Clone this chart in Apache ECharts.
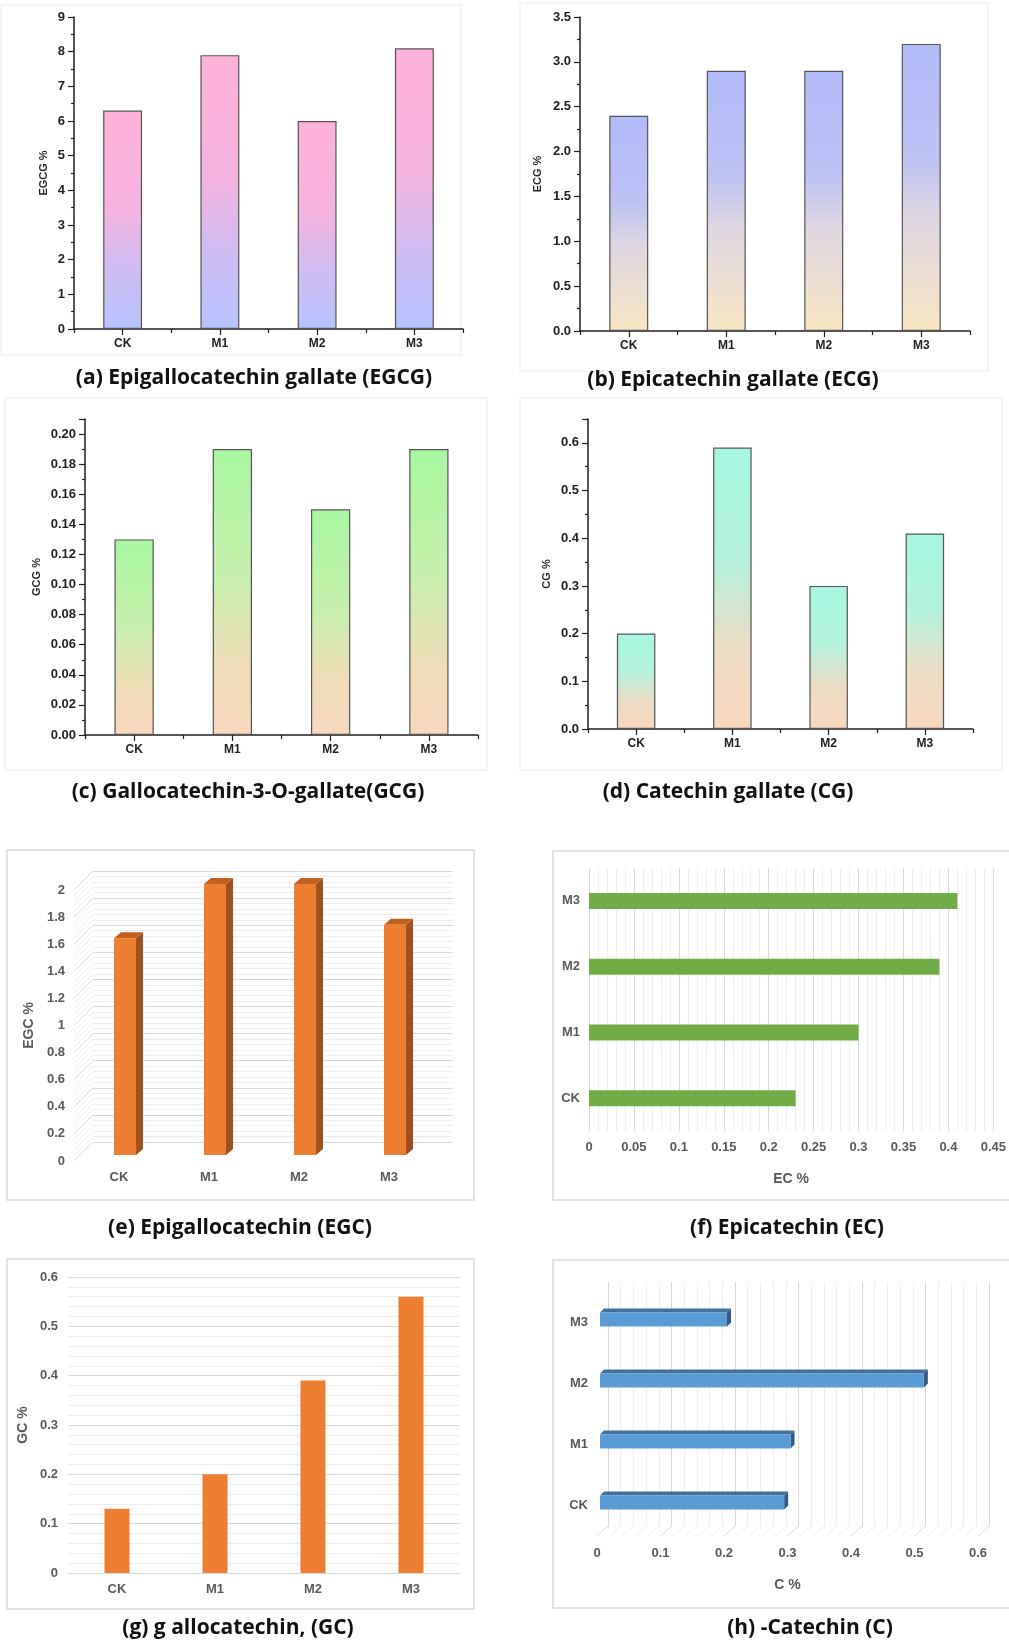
<!DOCTYPE html>
<html>
<head>
<meta charset="utf-8">
<script src="https://cdn.jsdelivr.net/npm/echarts@6/dist/echarts.min.js"></script>
<style>
  html, body { margin: 0; padding: 0; background: #fff; }
  #chart { width: 1009px; height: 1644px; }
</style>
</head>
<body>
<div id="chart"></div>
<script>
const categories = ['CK', 'M1', 'M2', 'M3'];
const egcgValues = [6.3, 7.9, 6.0, 8.1];
const ecgValues = [2.4, 2.9, 2.9, 3.2];
const gcgValues = [0.13, 0.19, 0.15, 0.19];
const cgValues = [0.2, 0.59, 0.3, 0.41];
const egcValues = [1.6, 2.0, 2.0, 1.7];
const ecValues = [0.23, 0.3, 0.39, 0.41];
const gcValues = [0.13, 0.2, 0.39, 0.56];
const cValues = [0.29, 0.3, 0.51, 0.2];
const egcTicks = [0, 0.2, 0.4, 0.6, 0.8, 1, 1.2, 1.4, 1.6, 1.8, 2];
const cTicks = [0, 0.1, 0.2, 0.3, 0.4, 0.5, 0.6];
const titles = [
  '(a) Epigallocatechin gallate (EGCG)',
  '(b) Epicatechin gallate (ECG)',
  '(c) Gallocatechin-3-O-gallate(GCG)',
  '(d) Catechin gallate (CG)',
  '(e) Epigallocatechin (EGC)',
  '(f) Epicatechin (EC)',
  '(g) g allocatechin, (GC)',
  '(h) -Catechin (C)'
];

const ORIGIN_FONT = '"Liberation Sans", Arial, sans-serif';
const EXCEL_FONT = '"Liberation Sans", Arial, sans-serif';
const TITLE_FONT = '"Open Sans", sans-serif';
const INK = '#1f1f1f';
const EXCEL_TEXT = '#595959';
const MAJOR_GRID = '#d9d9d9';
const MINOR_GRID = '#eeeeee';

const chart = echarts.init(document.getElementById('chart'));

const grid = [];
const xAxis = [];
const yAxis = [];
const series = [];
const graphic = [];

function addGrid(rect) {
  grid.push(Object.assign({ containLabel: false }, rect));
  return grid.length - 1;
}

function onStep(step, digits) {
  return (v) => Math.abs(v / step - Math.round(v / step)) < 1e-6 ? v.toFixed(digits) : '';
}

const excelLabel = { color: EXCEL_TEXT, fontWeight: 'bold', fontSize: 13, fontFamily: EXCEL_FONT };
const excelName = { color: EXCEL_TEXT, fontWeight: 'bold', fontSize: 14, fontFamily: EXCEL_FONT };

// Origin style panels (a)-(d): gradient bars with black frame axes
function originPanel(rect, values, yMax, step, digits, name, nameGap, stops) {
  const g = addGrid(rect);
  const line = { color: INK, width: 1.5 };
  const xi = xAxis.length;
  xAxis.push({
    type: 'category', gridIndex: g, data: categories,
    axisLine: { lineStyle: line },
    axisTick: { show: true, length: 4, lineStyle: { color: INK, width: 1.2 } },
    axisLabel: { color: INK, fontWeight: 'bold', fontSize: 12, fontFamily: ORIGIN_FONT, margin: 9 }
  });
  xAxis.push({
    type: 'category', gridIndex: g, data: categories, position: 'bottom',
    axisLine: { show: false },
    axisTick: { show: true, alignWithLabel: true, length: 6, lineStyle: { color: INK, width: 1.2 } },
    axisLabel: { show: false }
  });
  const yi = yAxis.length;
  yAxis.push({
    type: 'value', gridIndex: g, min: 0, max: yMax, interval: step,
    name: name, nameLocation: 'middle', nameGap: nameGap,
    nameTextStyle: { color: INK, fontWeight: 'bold', fontSize: 11, fontFamily: ORIGIN_FONT },
    axisLine: { show: true, lineStyle: line },
    axisTick: { show: true, length: 6, lineStyle: { color: INK, width: 1.2 } },
    minorTick: { show: true, splitNumber: 2, length: 3, lineStyle: { color: INK, width: 1.2 } },
    splitLine: { show: false },
    axisLabel: {
      color: INK, fontWeight: 'bold', fontSize: 13, fontFamily: ORIGIN_FONT, margin: 9,
      formatter: onStep(step, digits)
    }
  });
  series.push({
    type: 'bar', xAxisIndex: xi, yAxisIndex: yi, data: values, barWidth: '40%', silent: true,
    itemStyle: {
      color: new echarts.graphic.LinearGradient(0, 0, 0, 1, stops),
      borderColor: '#555', borderWidth: 1.2
    }
  });
}

originPanel({ left: 74, top: 17, width: 389, height: 312 }, egcgValues, 9, 1, 0, 'EGCG %', 25, [
  { offset: 0, color: '#ffb2da' }, { offset: 0.45, color: '#f4b3e0' },
  { offset: 0.7, color: '#d2bbf2' }, { offset: 1, color: '#b6c4ff' }
]);
originPanel({ left: 580, top: 17, width: 390, height: 314 }, ecgValues, 3.5, 0.5, 1, 'ECG %', 37, [
  { offset: 0, color: '#b2bbfa' }, { offset: 0.4, color: '#bcc2f4' },
  { offset: 0.6, color: '#ded6e2' }, { offset: 1, color: '#f9e6c2' }
]);
originPanel({ left: 85, top: 419, width: 393, height: 316 }, gcgValues, 0.21, 0.02, 2, 'GCG %', 43, [
  { offset: 0, color: '#a8f7a0' }, { offset: 0.45, color: '#c6f0ac' },
  { offset: 0.75, color: '#efdcb6' }, { offset: 1, color: '#f9d8bd' }
]);
originPanel({ left: 588, top: 419, width: 385, height: 310 }, cgValues, 0.65, 0.1, 1, 'CG %', 36, [
  { offset: 0, color: '#a6f7e0' }, { offset: 0.4, color: '#b4f2dc' },
  { offset: 0.7, color: '#ecdcc4' }, { offset: 1, color: '#f9d8bd' }
]);

// (e) Excel 3D column chart
const gE = addGrid({ left: 74, top: 890, width: 360, height: 271 });
const gEBack = addGrid({ left: 93, top: 871, width: 360, height: 271 });
const eX = xAxis.length;
xAxis.push({
  type: 'category', gridIndex: gE, data: categories,
  axisLine: { show: false }, axisTick: { show: false },
  axisLabel: Object.assign({ margin: 10 }, excelLabel)
});
const eY = yAxis.length;
yAxis.push({
  type: 'value', gridIndex: gE, min: 0, max: 2, interval: 0.2,
  name: 'EGC %', nameLocation: 'middle', nameGap: 38, nameTextStyle: excelName,
  axisLine: { show: false }, axisTick: { show: false }, splitLine: { show: false },
  axisLabel: Object.assign({ margin: 9 }, excelLabel)
});
xAxis.push({
  type: 'category', gridIndex: gEBack, data: categories,
  axisLine: { show: false }, axisTick: { show: false }, axisLabel: { show: false }
});
yAxis.push({
  type: 'value', gridIndex: gEBack, min: 0, max: 2, interval: 0.2,
  axisLine: { show: false }, axisTick: { show: false }, axisLabel: { show: false },
  minorTick: { show: false, splitNumber: 5 },
  splitLine: { show: true, lineStyle: { color: MAJOR_GRID, width: 1 } },
  minorSplitLine: { show: true, lineStyle: { color: MINOR_GRID, width: 1 } }
});
series.push({
  type: 'custom', xAxisIndex: eX, yAxisIndex: eY, silent: true, z: 1,
  data: egcTicks.map((v) => [0, v]),
  encode: { x: 0, y: 1 },
  renderItem(params, api) {
    const v = api.value(1);
    const cs = params.coordSys;
    const children = [];
    for (let k = 0; k < 5; k++) {
      const vv = v + k * 0.04;
      if (vv > 2 + 1e-9) break;
      const y = api.coord([0, vv])[1];
      children.push({
        type: 'line',
        shape: { x1: cs.x, y1: y, x2: cs.x + 19, y2: y - 19 },
        style: { stroke: k === 0 ? MAJOR_GRID : MINOR_GRID, lineWidth: 1 }
      });
    }
    return { type: 'group', children };
  }
});
series.push({
  type: 'custom', xAxisIndex: eX, yAxisIndex: eY, silent: true, z: 3,
  data: egcValues.map((v, i) => [i, v]),
  encode: { x: 0, y: 1 },
  renderItem(params, api) {
    const top = api.coord([api.value(0), api.value(1)]);
    const base = api.coord([api.value(0), 0]);
    const w = api.size([1, 0])[0] * 0.245;
    const x0 = top[0] - w / 2 + 6;
    const x1 = x0 + w;
    const yt = top[1] - 6;
    const yb = base[1] - 6;
    const dx = 7, dy = -6;
    return {
      type: 'group',
      children: [
        { type: 'polygon', shape: { points: [[x1, yt], [x1 + dx, yt + dy], [x1 + dx, yb + dy], [x1, yb]] }, style: { fill: '#9f511d' } },
        { type: 'polygon', shape: { points: [[x0, yt], [x1, yt], [x1 + dx, yt + dy], [x0 + dx, yt + dy]] }, style: { fill: '#c1601f' } },
        { type: 'rect', shape: { x: x0, y: yt, width: w, height: yb - yt }, style: { fill: '#ed7d31' } }
      ]
    };
  }
});

// (f) Excel horizontal bar chart
const gF = addGrid({ left: 589, top: 868, width: 406, height: 263 });
const fX = xAxis.length;
xAxis.push({
  type: 'value', gridIndex: gF, min: 0, max: 0.45, interval: 0.05,
  name: 'EC %', nameLocation: 'middle', nameGap: 41, nameTextStyle: excelName,
  axisLine: { show: false }, axisTick: { show: false },
  minorTick: { show: false, splitNumber: 5 },
  splitLine: { show: true, lineStyle: { color: MAJOR_GRID, width: 1 } },
  minorSplitLine: { show: true, lineStyle: { color: MINOR_GRID, width: 1 } },
  axisLabel: Object.assign({ margin: 10 }, excelLabel)
});
const fY = yAxis.length;
yAxis.push({
  type: 'category', gridIndex: gF, data: categories,
  axisLine: { show: false }, axisTick: { show: false },
  axisLabel: Object.assign({ margin: 9 }, excelLabel)
});
series.push({
  type: 'bar', xAxisIndex: fX, yAxisIndex: fY, data: ecValues, barWidth: 16, silent: true,
  itemStyle: { color: '#70ad47' }
});

// (g) Excel column chart
const gG = addGrid({ left: 68, top: 1277, width: 392, height: 296 });
const gX = xAxis.length;
xAxis.push({
  type: 'category', gridIndex: gG, data: categories,
  axisLine: { show: true, lineStyle: { color: MAJOR_GRID, width: 1 } }, axisTick: { show: false },
  axisLabel: Object.assign({ margin: 10 }, excelLabel)
});
const gY = yAxis.length;
yAxis.push({
  type: 'value', gridIndex: gG, min: 0, max: 0.6, interval: 0.1,
  name: 'GC %', nameLocation: 'middle', nameGap: 38, nameTextStyle: excelName,
  axisLine: { show: false }, axisTick: { show: false },
  minorTick: { show: false, splitNumber: 5 },
  splitLine: { show: true, lineStyle: { color: MAJOR_GRID, width: 1 } },
  minorSplitLine: { show: true, lineStyle: { color: MINOR_GRID, width: 1 } },
  axisLabel: Object.assign({ margin: 10 }, excelLabel)
});
series.push({
  type: 'bar', xAxisIndex: gX, yAxisIndex: gY, data: gcValues, barWidth: 25, silent: true,
  itemStyle: { color: '#ed7d31' }
});

// (h) Excel 3D horizontal bar chart
const gH = addGrid({ left: 597, top: 1292, width: 381, height: 244 });
const gHBack = addGrid({ left: 608, top: 1282, width: 381, height: 245 });
const hX = xAxis.length;
xAxis.push({
  type: 'value', gridIndex: gH, min: 0, max: 0.6, interval: 0.1,
  name: 'C %', nameLocation: 'middle', nameGap: 42, nameTextStyle: excelName,
  axisLine: { show: false }, axisTick: { show: false }, splitLine: { show: false },
  axisLabel: Object.assign({ margin: 11 }, excelLabel)
});
const hY = yAxis.length;
yAxis.push({
  type: 'category', gridIndex: gH, data: categories,
  axisLine: { show: false }, axisTick: { show: false },
  axisLabel: Object.assign({ margin: 9 }, excelLabel)
});
xAxis.push({
  type: 'value', gridIndex: gHBack, min: 0, max: 0.6, interval: 0.1,
  axisLine: { show: false }, axisTick: { show: false }, axisLabel: { show: false },
  minorTick: { show: false, splitNumber: 5 },
  splitLine: { show: true, lineStyle: { color: MAJOR_GRID, width: 1 } },
  minorSplitLine: { show: true, lineStyle: { color: MINOR_GRID, width: 1 } }
});
yAxis.push({
  type: 'category', gridIndex: gHBack, data: categories,
  axisLine: { show: false }, axisTick: { show: false }, axisLabel: { show: false }
});
series.push({
  type: 'custom', xAxisIndex: hX, yAxisIndex: hY, silent: true, z: 1,
  data: cTicks.map((v) => [v, 0]),
  encode: { x: 0, y: 1 },
  renderItem(params, api) {
    const v = api.value(0);
    const cs = params.coordSys;
    const yb = cs.y + cs.height;
    const children = [];
    for (let k = 0; k < 5; k++) {
      const vv = v + k * 0.02;
      if (vv > 0.6 + 1e-9) break;
      const x = api.coord([vv, 0])[0];
      children.push({
        type: 'line',
        shape: { x1: x, y1: yb, x2: x + 11, y2: yb - 10 },
        style: { stroke: k === 0 ? MAJOR_GRID : MINOR_GRID, lineWidth: 1 }
      });
    }
    return { type: 'group', children };
  }
});
series.push({
  type: 'custom', xAxisIndex: hX, yAxisIndex: hY, silent: true, z: 3,
  data: cValues.map((v, i) => [v, i]),
  encode: { x: 0, y: 1 },
  renderItem(params, api) {
    const end = api.coord([api.value(0), api.value(1)]);
    const start = api.coord([0, api.value(1)]);
    const h = api.size([0, 1])[1] * 0.23;
    const x0 = start[0] + 3;
    const x1 = end[0] + 3;
    const yt = end[1] - h / 2 - 3;
    const yb = yt + h;
    const dx = 4, dy = -4;
    return {
      type: 'group',
      children: [
        { type: 'polygon', shape: { points: [[x1, yt], [x1 + dx, yt + dy], [x1 + dx, yb + dy], [x1, yb]] }, style: { fill: '#2f5b86' } },
        { type: 'polygon', shape: { points: [[x0, yt], [x1, yt], [x1 + dx, yt + dy], [x0 + dx, yt + dy]] }, style: { fill: '#41719c' } },
        { type: 'rect', shape: { x: x0, y: yt, width: x1 - x0, height: h }, style: { fill: '#5b9bd5' } }
      ]
    };
  }
});

// panel frames
[[1, 5, 460, 350, '#f2f2f2'], [520, 3, 468, 368, '#f2f2f2'], [5, 398, 482, 372, '#f2f2f2'], [520, 398, 482, 372, '#f2f2f2'],
 [7, 850, 467, 350, MAJOR_GRID], [553, 851, 470, 349, MAJOR_GRID], [7, 1259, 467, 350, MAJOR_GRID], [553, 1260, 470, 348, MAJOR_GRID]]
  .forEach(([x, y, w, h, c]) => {
    graphic.push({ type: 'rect', z: -10, shape: { x, y, width: w, height: h }, style: { fill: 'none', stroke: c, lineWidth: 1.5 } });
  });

// panel captions
const captionPos = [[254, 378], [733, 380], [248, 792], [728, 792], [240, 1228], [787, 1228], [238, 1628], [810, 1628]];
titles.forEach((t, i) => {
  graphic.push({
    type: 'text', x: captionPos[i][0], y: captionPos[i][1],
    style: { text: t, align: 'center', verticalAlign: 'middle', fill: '#111', font: 'bold 21px ' + TITLE_FONT }
  });
});

chart.setOption({
  animation: false,
  backgroundColor: '#ffffff',
  grid, xAxis, yAxis, series, graphic
});

window.addEventListener('resize', () => chart.resize());
</script>
</body>
</html>
